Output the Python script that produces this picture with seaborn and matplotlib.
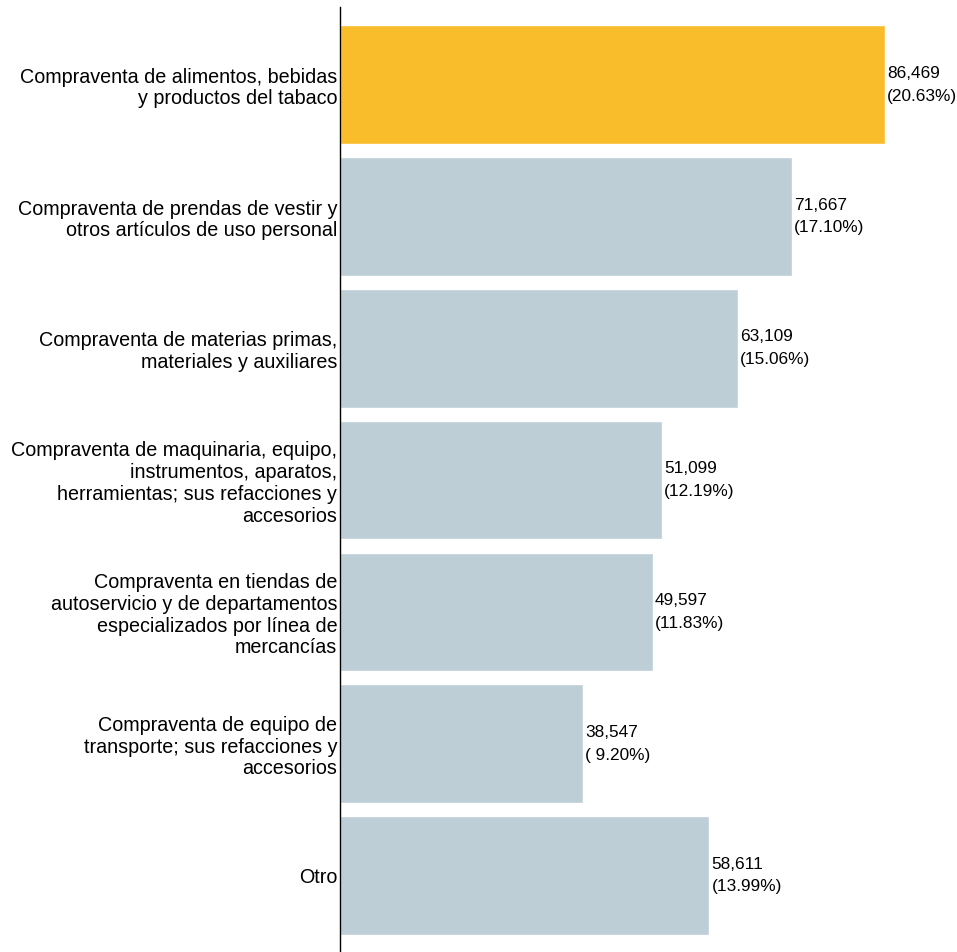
import matplotlib
matplotlib.use("Agg")
import matplotlib.pyplot as plt
import seaborn as sns
import pandas as pd

categories = [
    "Compraventa de alimentos, bebidas\ny productos del tabaco",
    "Compraventa de prendas de vestir y\notros artículos de uso personal",
    "Compraventa de materias primas,\nmateriales y auxiliares",
    "Compraventa de maquinaria, equipo,\ninstrumentos, aparatos,\nherramientas; sus refacciones y\naccesorios",
    "Compraventa en tiendas de\nautoservicio y de departamentos\nespecializados por línea de\nmercancías",
    "Compraventa de equipo de\ntransporte; sus refacciones y\naccesorios",
    "Otro",
]
values = [86469, 71667, 63109, 51099, 49597, 38547, 58611]
percents = [20.63, 17.10, 15.06, 12.19, 11.83, 9.20, 13.99]
colors = ["#F9BC2A"] + ["#BDCED6"] * 6

sns.set_theme(style="white")
plt.rcParams["font.family"] = ["Liberation Sans", "DejaVu Sans"]

df = pd.DataFrame({"cat": categories, "val": values})

fig = plt.figure(figsize=(9.57, 9.52), dpi=100)
ax = fig.add_axes([340 / 957, 0.0, 1 - 340 / 957, 1 - 7 / 952])
sns.barplot(data=df, y="cat", x="val", hue="cat", palette=colors, legend=False,
            width=0.9, saturation=1, ax=ax)

ax.set_xlim(0, 97900)
ax.set_ylim(6.58, -0.59)
ax.set_xlabel("")
ax.set_ylabel("")
ax.set_xticks([])
for s in ["top", "right", "bottom"]:
    ax.spines[s].set_visible(False)
ax.spines["left"].set_color("black")
ax.spines["left"].set_linewidth(1.0)
ax.tick_params(axis="y", length=0, pad=2, labelsize=14.2, labelcolor="black")
for lbl in ax.get_yticklabels():
    lbl.set_horizontalalignment("right")
    lbl.set_multialignment("right")
    lbl.set_linespacing(1.18)

for i, (v, p) in enumerate(zip(values, percents)):
    ax.text(v + 350, i, f"{v:,}\n({p:5.2f}%)", va="center", ha="left",
            fontsize=12.4, color="black", linespacing=1.65)

fig.savefig("out.png", dpi=100)
